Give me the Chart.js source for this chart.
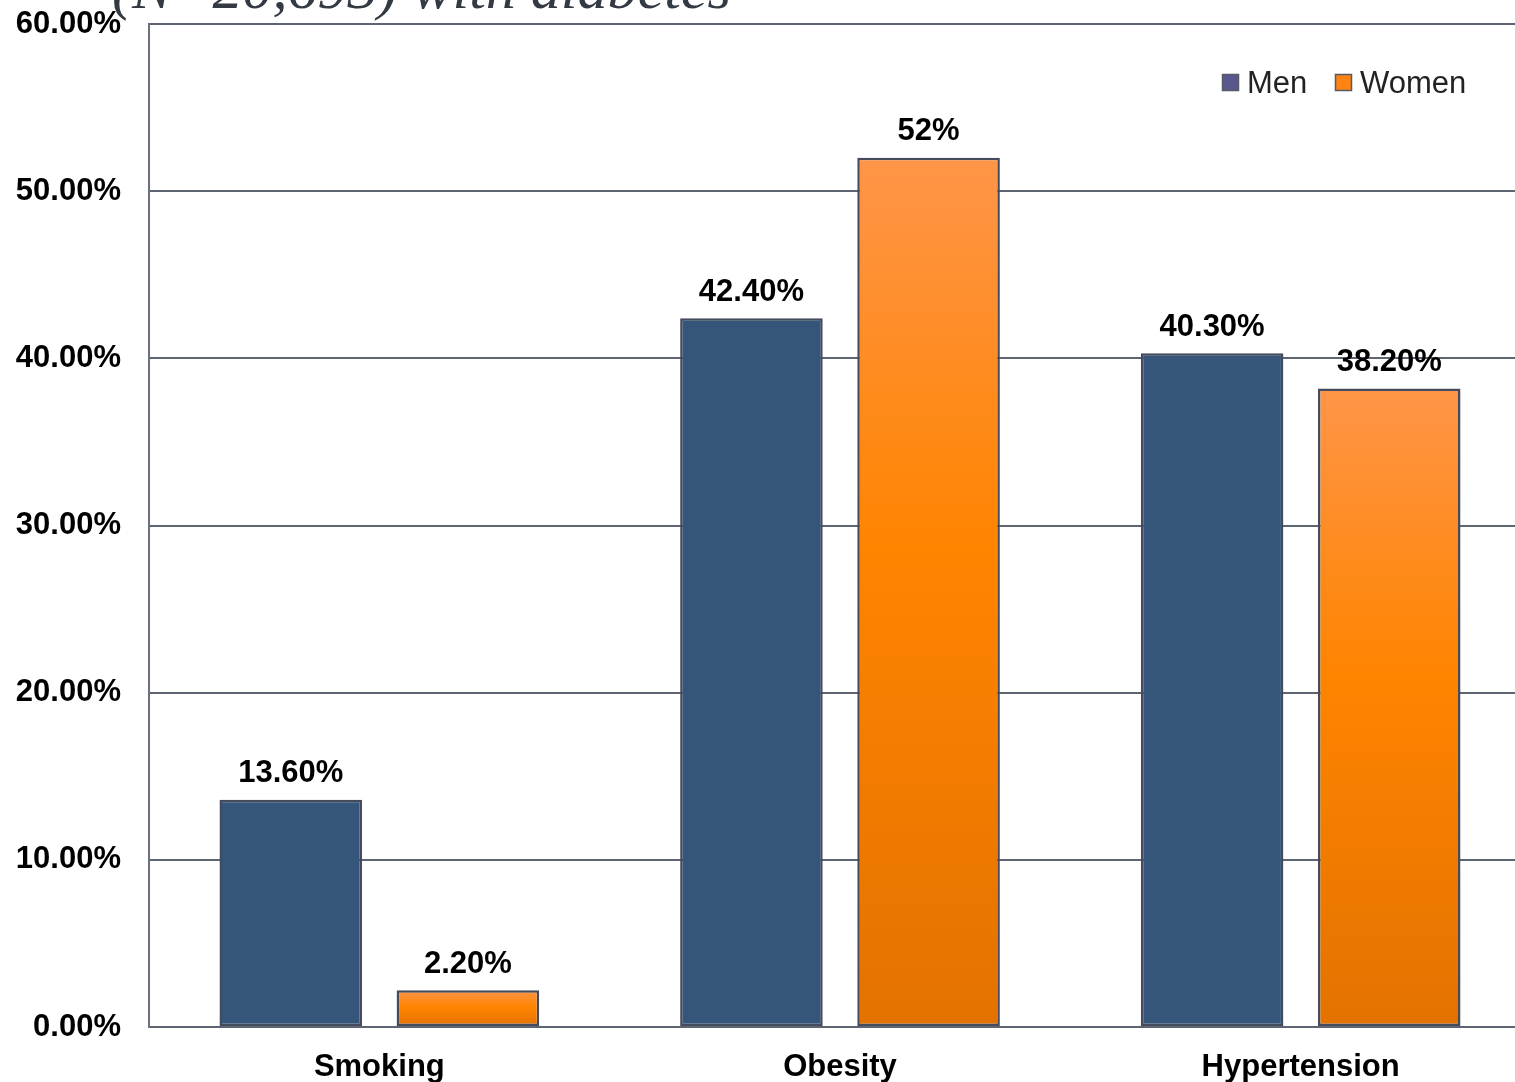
<!DOCTYPE html>
<html>
<head>
<meta charset="utf-8">
<script src="https://cdn.jsdelivr.net/npm/chart.js@4/dist/chart.umd.min.js"></script>
<style>
  html, body { margin: 0; padding: 0; background: #ffffff; overflow: hidden; }
  #wrap { position: relative; width: 1531px; height: 1082px; }
</style>
</head>
<body>
<div id="wrap"><canvas id="c" width="1531" height="1082"></canvas></div>
<script>
const titleText = "(N=20,693) with diabetes";
const categories = ["Smoking", "Obesity", "Hypertension"];
const seriesNames = ["Men", "Women"];
const menValues = [13.6, 42.4, 40.3];
const womenValues = [2.2, 52, 38.2];
const menLabels = ["13.60%", "42.40%", "40.30%"];
const womenLabels = ["2.20%", "52%", "38.20%"];
const yTickLabels = ["0.00%", "10.00%", "20.00%", "30.00%", "40.00%", "50.00%", "60.00%"];

const FONT = "'Liberation Sans', Arial, Helvetica, sans-serif";
const MEN_COLOR = "#36557a";
const LEGEND_MEN = "#58588e";
const LEGEND_WOMEN = "#ff8214";
const BORDER = "#434b5c";

function womenFill(ctx) {
  const chart = ctx.chart;
  const ca = chart.chartArea;
  if (!ca || ctx.type !== 'data') return "#ff8400";
  const y = chart.scales.y;
  const top = y.getPixelForValue(ctx.raw);
  const bottom = y.getPixelForValue(0);
  if (!isFinite(top) || !isFinite(bottom) || bottom - top < 1) return "#ff8400";
  const g = chart.ctx.createLinearGradient(0, top, 0, bottom);
  g.addColorStop(0, "#ff9548");
  g.addColorStop(0.45, "#ff8400");
  g.addColorStop(1, "#e47200");
  return g;
}

const barLabels = {
  id: 'barLabels',
  afterDatasetsDraw(chart) {
    const ctx = chart.ctx;
    const sets = [menLabels, womenLabels];
    ctx.save();
    ctx.font = "bold 31px " + FONT;
    ctx.fillStyle = "#000";
    ctx.textAlign = "center";
    ctx.textBaseline = "middle";
    chart.data.datasets.forEach((ds, di) => {
      chart.getDatasetMeta(di).data.forEach((el, i) => {
        ctx.fillText(sets[di][i], el.x, el.y - 26);
      });
    });
    ctx.restore();
  }
};

const customLegend = {
  id: 'customLegend',
  afterDraw(chart) {
    const ctx = chart.ctx;
    const colors = [LEGEND_MEN, LEGEND_WOMEN];
    const xs = [1222, 1335];
    ctx.save();
    ctx.font = "31px " + FONT;
    ctx.textBaseline = "middle";
    ctx.textAlign = "left";
    seriesNames.forEach((name, i) => {
      ctx.fillStyle = colors[i];
      ctx.fillRect(xs[i], 74, 17, 17);
      ctx.strokeStyle = "#555a66";
      ctx.lineWidth = 1.5;
      ctx.strokeRect(xs[i] + 0.5, 74.5, 16, 16);
      ctx.fillStyle = "#222";
      ctx.fillText(name, xs[i] + 25, 84);
    });
    ctx.restore();
  }
};

const topTitle = {
  id: 'topTitle',
  afterDraw(chart) {
    const ctx = chart.ctx;
    ctx.save();
    ctx.font = "italic 60px 'Liberation Serif', 'Times New Roman', serif";
    ctx.fillStyle = "#333a44";
    ctx.textAlign = "left";
    ctx.textBaseline = "alphabetic";
    ctx.fillText(titleText, 112, 8);
    ctx.restore();
  }
};

new Chart(document.getElementById('c'), {
  type: 'bar',
  data: {
    labels: categories,
    datasets: [
      {
        label: seriesNames[0],
        data: menValues,
        backgroundColor: MEN_COLOR,
        borderColor: BORDER,
        borderWidth: 2.5,
        borderSkipped: false,
        categoryPercentage: 0.769,
        barPercentage: 0.805
      },
      {
        label: seriesNames[1],
        data: womenValues,
        backgroundColor: womenFill,
        borderColor: BORDER,
        borderWidth: 2.5,
        borderSkipped: false,
        categoryPercentage: 0.769,
        barPercentage: 0.805
      }
    ]
  },
  options: {
    responsive: false,
    animation: false,
    devicePixelRatio: 1,
    layout: { padding: { top: 24, right: 0, left: 0, bottom: 0 } },
    plugins: {
      legend: { display: false },
      title: { display: false },
      tooltip: { enabled: false }
    },
    scales: {
      x: {
        grid: { display: false, drawTicks: false },
        border: { display: true, color: "#5d6472", width: 2 },
        ticks: {
          font: { family: FONT, size: 31, weight: 'bold' },
          color: "#000",
          padding: 22,
          maxRotation: 0
        },
        afterFit(scale) {
          scale.height = 55;
          scale.paddingLeft = 0; scale.paddingRight = 0;
        }
      },
      y: {
        min: 0,
        max: 60,
        grid: { color: "#5d6472", lineWidth: 2, drawTicks: false },
        border: { display: true, color: "#6a7080", width: 2 },
        ticks: {
          stepSize: 10,
          font: { family: FONT, size: 31, weight: 'bold' },
          color: "#000",
          padding: 28,
          callback: (v) => yTickLabels[Math.round(v / 10)]
        },
        afterFit(scale) {
          scale.width = 149;
          scale.paddingTop = 0; scale.paddingBottom = 0;
        }
      }
    }
  },
  plugins: [barLabels, customLegend, topTitle]
});
</script>
</body>
</html>
